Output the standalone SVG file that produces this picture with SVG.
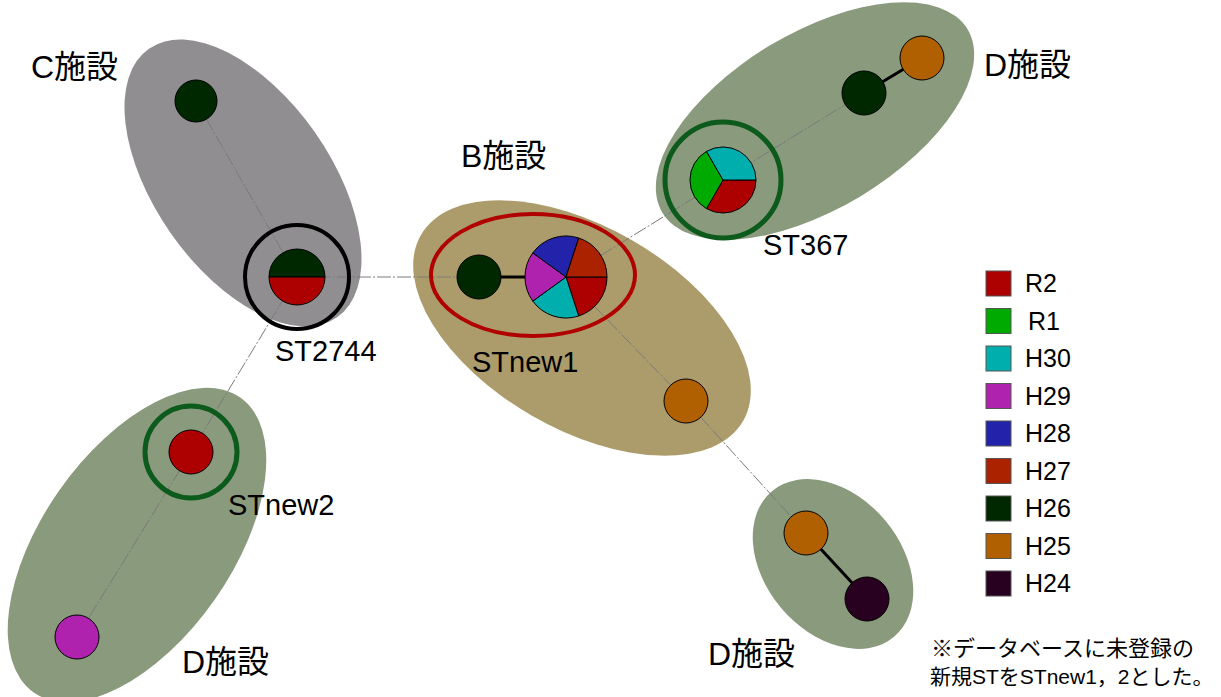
<svg xmlns="http://www.w3.org/2000/svg" width="1221" height="697" viewBox="0 0 1221 697">
  <style>
    .lbl { font-family: "Liberation Sans", "Noto Sans CJK JP", sans-serif; fill: #000; }
    .big { font-size: 29px; }
    .site { font-size: 32px; }
    .leg { font-size: 25px; }
    .note { font-size: 22px; }
    .note2 { font-size: 21px; }
    .edge { stroke: #7a7a7a; stroke-width: 1; stroke-dasharray: 14 2 2 2; fill: none; }
    .bond { stroke: #000; stroke-width: 3; }
    .node { stroke: #000; stroke-width: 1; }
    .sw { stroke: #555; stroke-width: 1; }
  </style>

  <rect width="1221" height="697" fill="#fff"/>

  <!-- facility areas -->
  <g id="areas">
    <ellipse id="area-C" cx="243" cy="183" rx="164" ry="88" transform="rotate(55 243 183)" fill="#908e90"/>
    <ellipse id="area-B" cx="582" cy="328" rx="186" ry="101" transform="rotate(30 582 328)" fill="#ad9c6b"/>
    <ellipse id="area-D1" cx="815" cy="121" rx="178" ry="88" transform="rotate(-31 815 121)" fill="#8a9a7c"/>
    <ellipse id="area-D2" cx="137" cy="545" rx="180" ry="95" transform="rotate(-55 137 545)" fill="#8a9a7c"/>
    <ellipse id="area-D3" cx="833" cy="564" rx="95" ry="68" transform="rotate(50 833 564)" fill="#8a9a7c"/>
  </g>

  <!-- connectors -->
  <g id="connectors">
    <line class="edge" x1="196" y1="101" x2="297" y2="277"/>
    <line class="edge" x1="297" y1="277" x2="479" y2="277"/>
    <line class="edge" x1="297" y1="277" x2="191" y2="452"/>
    <line class="edge" x1="191" y1="452" x2="77" y2="637"/>
    <line class="edge" x1="566" y1="277" x2="723" y2="180"/>
    <line class="edge" x1="723" y1="180" x2="864" y2="93"/>
    <line class="edge" x1="566" y1="277" x2="686" y2="401"/>
    <line class="edge" x1="686" y1="401" x2="806" y2="533"/>
    <line class="bond" x1="479" y1="277" x2="530" y2="277"/>
    <line class="bond" x1="864" y1="93" x2="922" y2="58"/>
    <line class="bond" x1="806" y1="533" x2="867" y2="599"/>
  </g>

  <!-- C facility -->
  <g id="node-C-H26">
    <circle class="node" cx="196" cy="101" r="21" fill="#002800"/>
  </g>
  <g id="node-ST2744">
    <path class="node" d="M269 277 A28 28 0 0 1 325 277 Z" fill="#002800"/>
    <path class="node" d="M269 277 A28 28 0 0 0 325 277 Z" fill="#ad0000"/>
    <circle cx="297" cy="277" r="52" fill="none" stroke="#000" stroke-width="4"/>
    <text class="lbl big" x="275" y="361">ST2744</text>
  </g>
  <text class="lbl site" x="31" y="78">C施設</text>

  <!-- B facility -->
  <g id="node-B-H26">
    <circle class="node" cx="479" cy="277" r="22" fill="#002800"/>
  </g>
  <g id="node-STnew1">
    <!-- five equal slices, clockwise from 3 o'clock -->
    <path class="node" d="M566 277 L607 277 A41 41 0 0 1 578.7 316 Z" fill="#ad0000"/>
    <path class="node" d="M566 277 L578.7 316 A41 41 0 0 1 532.8 301.1 Z" fill="#00aeae"/>
    <path class="node" d="M566 277 L532.8 301.1 A41 41 0 0 1 532.8 252.9 Z" fill="#ae22ae"/>
    <path class="node" d="M566 277 L532.8 252.9 A41 41 0 0 1 578.7 238 Z" fill="#2222aa"/>
    <path class="node" d="M566 277 L578.7 238 A41 41 0 0 1 607 277 Z" fill="#aa2200"/>
    <ellipse cx="533" cy="275" rx="102" ry="61" fill="none" stroke="#b00000" stroke-width="4"/>
    <text class="lbl big" x="472" y="372">STnew1</text>
  </g>
  <g id="node-B-H25">
    <circle class="node" cx="686" cy="401" r="22" fill="#b06000"/>
  </g>
  <text class="lbl site" x="461" y="167">B施設</text>

  <!-- D facility, upper right -->
  <g id="node-ST367">
    <path class="node" d="M723 180 L756 180 A33 33 0 0 1 706.5 208.6 Z" fill="#ad0000"/>
    <path class="node" d="M723 180 L706.5 208.6 A33 33 0 0 1 706.5 151.4 Z" fill="#00aa00"/>
    <path class="node" d="M723 180 L706.5 151.4 A33 33 0 0 1 756 180 Z" fill="#00aeae"/>
    <circle cx="723" cy="180" r="58" fill="none" stroke="#0c5a1c" stroke-width="5"/>
    <text class="lbl big" x="763" y="255">ST367</text>
  </g>
  <g id="node-D1-H26">
    <circle class="node" cx="864" cy="93" r="22" fill="#002800"/>
  </g>
  <g id="node-D1-H25">
    <circle class="node" cx="922" cy="58" r="22" fill="#b06000"/>
  </g>
  <text class="lbl site" x="984" y="76">D施設</text>

  <!-- D facility, lower left -->
  <g id="node-STnew2">
    <circle class="node" cx="191" cy="452" r="22" fill="#ad0000"/>
    <circle cx="191" cy="452" r="46" fill="none" stroke="#0c5a1c" stroke-width="5"/>
    <text class="lbl big" x="228" y="515">STnew2</text>
  </g>
  <g id="node-D2-H29">
    <circle class="node" cx="77" cy="637" r="22" fill="#ae22ae"/>
  </g>
  <text class="lbl site" x="182" y="673">D施設</text>

  <!-- D facility, lower right -->
  <g id="node-D3-H25">
    <circle class="node" cx="806" cy="533" r="22" fill="#b06000"/>
  </g>
  <g id="node-D3-H24">
    <circle class="node" cx="867" cy="599" r="22" fill="#280020"/>
  </g>
  <text class="lbl site" x="708" y="665">D施設</text>

  <!-- legend -->
  <g id="legend">
    <rect class="sw" x="986" y="271" width="25" height="25" fill="#ad0000"/>
    <rect class="sw" x="986" y="308.5" width="25" height="25" fill="#00aa00"/>
    <rect class="sw" x="986" y="346" width="25" height="25" fill="#00aeae"/>
    <rect class="sw" x="986" y="383.5" width="25" height="25" fill="#ae22ae"/>
    <rect class="sw" x="986" y="421" width="25" height="25" fill="#2222aa"/>
    <rect class="sw" x="986" y="458.5" width="25" height="25" fill="#aa2200"/>
    <rect class="sw" x="986" y="496" width="25" height="25" fill="#002800"/>
    <rect class="sw" x="986" y="533.5" width="25" height="25" fill="#b06000"/>
    <rect class="sw" x="986" y="571" width="25" height="25" fill="#280020"/>
    <text class="lbl leg" x="1025" y="292">R2</text>
    <text class="lbl leg" x="1028" y="330">R1</text>
    <text class="lbl leg" x="1025" y="367">H30</text>
    <text class="lbl leg" x="1025" y="405">H29</text>
    <text class="lbl leg" x="1025" y="442">H28</text>
    <text class="lbl leg" x="1025" y="480">H27</text>
    <text class="lbl leg" x="1025" y="517">H26</text>
    <text class="lbl leg" x="1025" y="555">H25</text>
    <text class="lbl leg" x="1025" y="592">H24</text>
  </g>

  <!-- footnote -->
  <g id="note">
    <text class="lbl note" x="931" y="656">※データベースに未登録の</text>
    <text class="lbl note2" x="930" y="684">新規STをSTnew1，2とした。</text>
  </g>
</svg>
